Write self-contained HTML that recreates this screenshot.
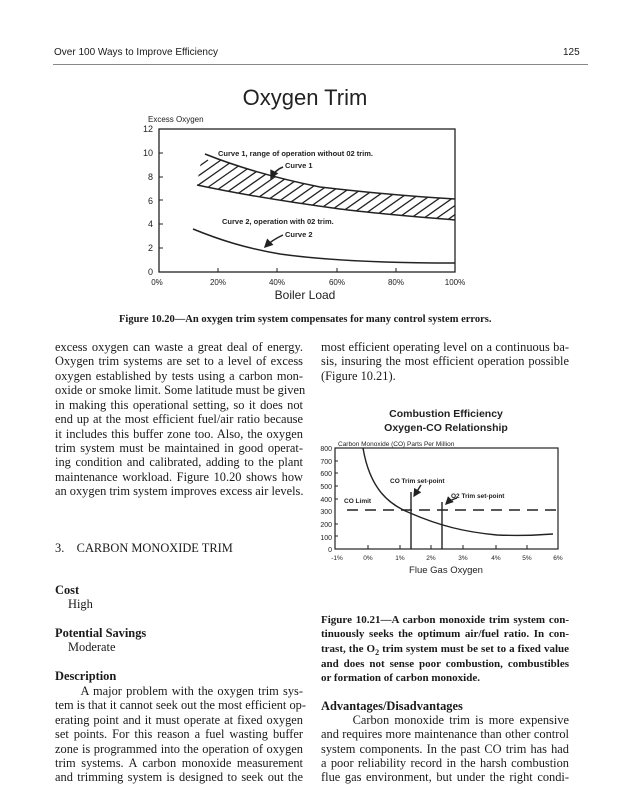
<!DOCTYPE html>
<html><head><meta charset="utf-8"><style>
body{margin:0;width:619px;height:800px;background:#fff;position:relative;overflow:hidden;font-family:"Liberation Serif",serif;color:#1a1a1a}
.l{position:absolute;font-size:12.4px;line-height:14px;height:14px;white-space:nowrap;text-align:justify;text-align-last:justify}
.L{left:55px;width:248px}
.R{left:321px;width:248px}
.n{text-align-last:left}
.b{font-weight:bold}
.s{font-family:"Liberation Sans",sans-serif}
svg{position:absolute;left:0;top:0}
svg text{font-family:"Liberation Sans",sans-serif;fill:#222}
</style></head><body>
<div class="s" style="position:absolute;left:54px;top:47px;font-size:10px">Over 100 Ways to Improve Efficiency</div>
<div class="s" style="position:absolute;left:563px;top:47px;font-size:10px">125</div>
<div style="position:absolute;left:53px;top:64px;width:535px;height:1px;background:#888"></div>

<svg width="619" height="800" viewBox="0 0 619 800">
<defs>
<clipPath id="band"><path d="M205,154 C230,164 265,176 320,187 C380,194 420,197 455,199 L455,220 C420,217 380,214 340,209 C280,201 230,192 197,185 L200,166 Z"/></clipPath>
<marker id="ah" markerWidth="6" markerHeight="6" refX="5" refY="3" orient="auto"><path d="M0,0 L6,3 L0,6 Z" fill="#222"/></marker>
</defs>
<text x="305" y="105" font-size="22" text-anchor="middle">Oxygen Trim</text>
<text x="148" y="122" font-size="8">Excess Oxygen</text>
<rect x="159" y="129" width="296" height="143" fill="none" stroke="#222" stroke-width="1.3"/>
<g font-size="9" text-anchor="end">
<text x="153" y="132">12</text><text x="153" y="156">10</text><text x="153" y="180">8</text><text x="153" y="204">6</text><text x="153" y="227">4</text><text x="153" y="251">2</text><text x="153" y="275">0</text></g>
<g stroke="#222"><line x1="159" y1="153" x2="163" y2="153"/><line x1="159" y1="177" x2="163" y2="177"/><line x1="159" y1="200" x2="163" y2="200"/><line x1="159" y1="224" x2="163" y2="224"/><line x1="159" y1="248" x2="163" y2="248"/>
<line x1="218" y1="272" x2="218" y2="268"/><line x1="277" y1="272" x2="277" y2="268"/><line x1="337" y1="272" x2="337" y2="268"/><line x1="396" y1="272" x2="396" y2="268"/></g>
<g font-size="8" text-anchor="middle"><text x="157" y="285">0%</text><text x="218" y="285">20%</text><text x="277" y="285">40%</text><text x="337" y="285">60%</text><text x="396" y="285">80%</text><text x="455" y="285">100%</text></g>
<text x="305" y="299" font-size="12" text-anchor="middle">Boiler Load</text>
<g clip-path="url(#band)" stroke="#222" stroke-width="1.3">
<path d="M160,230 l100,-70 M173,230 l100,-70 M186,230 l100,-70 M199,230 l100,-70 M212,230 l100,-70 M225,230 l100,-70 M238,230 l100,-70 M251,230 l100,-70 M264,230 l100,-70 M277,230 l100,-70 M290,230 l100,-70 M303,230 l100,-70 M316,230 l100,-70 M329,230 l100,-70 M342,230 l100,-70 M355,230 l100,-70 M368,230 l100,-70 M381,230 l100,-70 M394,230 l100,-70 M407,230 l100,-70 M420,230 l100,-70 M433,230 l100,-70 M446,230 l100,-70 M147,230 l100,-70 M134,230 l100,-70 M121,230 l100,-70 M108,230 l100,-70"/></g>
<g fill="none" stroke="#222" stroke-width="1.5">
<path d="M205,154 C230,164 265,176 320,187 C380,194 420,197 455,199"/>
<path d="M197,185 C230,192 280,201 340,209 C380,214 420,217 455,220"/>
<path d="M193,229 C220,240 245,248 280,254 C330,261 400,263 455,263"/>
<path d="M283,167 Q275,170 271,178" marker-end="url(#ah)"/>
<path d="M283,235 Q272,240 265,247" marker-end="url(#ah)"/>
</g>
<g font-size="7.5" font-weight="bold"><text x="218" y="156">Curve 1, range of operation without 02 trim.</text><text x="285" y="168">Curve 1</text><text x="222" y="224">Curve 2, operation with 02 trim.</text><text x="285" y="237">Curve 2</text></g>

<text x="446" y="417" font-size="10.5" font-weight="bold" text-anchor="middle">Combustion Efficiency</text>
<text x="446" y="431" font-size="10.5" font-weight="bold" text-anchor="middle">Oxygen-CO Relationship</text>
<text x="338" y="446" font-size="6.5">Carbon Monoxide (CO) Parts Per Million</text>
<rect x="335" y="448" width="223" height="101" fill="none" stroke="#222" stroke-width="1.2"/>
<g font-size="7" text-anchor="end"><text x="332" y="451">800</text><text x="332" y="464">700</text><text x="332" y="476">600</text><text x="332" y="489">500</text><text x="332" y="502">400</text><text x="332" y="514">300</text><text x="332" y="527">200</text><text x="332" y="540">100</text><text x="332" y="552">0</text></g>
<g stroke="#222"><line x1="335" y1="461" x2="338" y2="461"/><line x1="335" y1="473" x2="338" y2="473"/><line x1="335" y1="486" x2="338" y2="486"/><line x1="335" y1="499" x2="338" y2="499"/><line x1="335" y1="524" x2="338" y2="524"/><line x1="335" y1="536" x2="338" y2="536"/>
<line x1="368" y1="549" x2="368" y2="545"/><line x1="400" y1="549" x2="400" y2="545"/><line x1="431" y1="549" x2="431" y2="545"/><line x1="463" y1="549" x2="463" y2="545"/><line x1="496" y1="549" x2="496" y2="545"/><line x1="527" y1="549" x2="527" y2="545"/></g>
<g font-size="6.5" text-anchor="middle"><text x="337" y="560">-1%</text><text x="368" y="560">0%</text><text x="400" y="560">1%</text><text x="431" y="560">2%</text><text x="463" y="560">3%</text><text x="496" y="560">4%</text><text x="527" y="560">5%</text><text x="558" y="560">6%</text></g>
<text x="446" y="573" font-size="9.5" text-anchor="middle">Flue Gas Oxygen</text>
<line x1="347" y1="510" x2="558" y2="510" stroke="#222" stroke-width="1.5" stroke-dasharray="11,7"/>
<g fill="none" stroke="#222" stroke-width="1.4">
<path d="M363,448 C370,490 390,505 410,513 C440,526 465,532 497,535 C520,536 540,535 553,534"/>
<line x1="411" y1="492" x2="411" y2="549"/><line x1="442" y1="502" x2="442" y2="549"/>
<path d="M421,485 L414,496" marker-end="url(#ah)"/>
<path d="M457,498 Q450,500 446,504" marker-end="url(#ah)"/>
</g>
<g font-size="6.5" font-weight="bold"><text x="390" y="483">CO Trim set-point</text><text x="451" y="498">O2 Trim set-point</text><text x="344" y="503">CO Limit</text></g>
</svg>

<div class="l b" style="left:119px;top:313px;font-size:10.5px;text-align-last:left">Figure 10.20—An oxygen trim system compensates for many control system errors.</div>

<div class="l L" style="top:340px">excess oxygen can waste a great deal of energy.</div>
<div class="l L" style="top:354px">Oxygen trim systems are set to a level of excess</div>
<div class="l L" style="top:369px">oxygen established by tests using a carbon mon-</div>
<div class="l L" style="top:383px">oxide or smoke limit. Some latitude must be given</div>
<div class="l L" style="top:398px">in making this operational setting, so it does not</div>
<div class="l L" style="top:412px">end up at the most efficient fuel/air ratio because</div>
<div class="l L" style="top:427px">it includes this buffer zone too. Also, the oxygen</div>
<div class="l L" style="top:441px">trim system must be maintained in good operat-</div>
<div class="l L" style="top:455px">ing condition and calibrated, adding to the plant</div>
<div class="l L" style="top:470px">maintenance workload. Figure 10.20 shows how</div>
<div class="l L" style="top:484px">an oxygen trim system improves excess air levels.</div>

<div class="l L n" style="top:541px">3.&nbsp;&nbsp;&nbsp;&nbsp;CARBON MONOXIDE TRIM</div>
<div class="l L n b" style="top:583px">Cost</div>
<div class="l n" style="left:68px;top:597px">High</div>
<div class="l L n b" style="top:626px">Potential Savings</div>
<div class="l n" style="left:68px;top:640px">Moderate</div>
<div class="l L n b" style="top:669px">Description</div>
<div class="l L" style="top:684px">&nbsp;&nbsp;&nbsp;&nbsp;&nbsp;&nbsp;A major problem with the oxygen trim sys-</div>
<div class="l L" style="top:698px">tem is that it cannot seek out the most efficient op-</div>
<div class="l L" style="top:713px">erating point and it must operate at fixed oxygen</div>
<div class="l L" style="top:727px">set points. For this reason a fuel wasting buffer</div>
<div class="l L" style="top:742px">zone is programmed into the operation of oxygen</div>
<div class="l L" style="top:756px">trim systems. A carbon monoxide measurement</div>
<div class="l L" style="top:770px">and trimming system is designed to seek out the</div>

<div class="l R" style="top:340px">most efficient operating level on a continuous ba-</div>
<div class="l R" style="top:354px">sis, insuring the most efficient operation possible</div>
<div class="l R n" style="top:369px">(Figure 10.21).</div>

<div class="l R b" style="top:613px;font-size:11px">Figure 10.21—A carbon monoxide trim system con-</div>
<div class="l R b" style="top:627px;font-size:11px">tinuously seeks the optimum air/fuel ratio. In con-</div>
<div class="l R b" style="top:642px;font-size:11px">trast, the O<sub style="font-size:8px;line-height:0">2</sub> trim system must be set to a fixed value</div>
<div class="l R b" style="top:657px;font-size:11px">and does not sense poor combustion, combustibles</div>
<div class="l R b n" style="top:671px;font-size:11px">or formation of carbon monoxide.</div>

<div class="l R n b" style="top:699px">Advantages/Disadvantages</div>
<div class="l R" style="top:713px">&nbsp;&nbsp;&nbsp;&nbsp;&nbsp;&nbsp;Carbon monoxide trim is more expensive</div>
<div class="l R" style="top:727px">and requires more maintenance than other control</div>
<div class="l R" style="top:742px">system components. In the past CO trim has had</div>
<div class="l R" style="top:756px">a poor reliability record in the harsh combustion</div>
<div class="l R" style="top:770px">flue gas environment, but under the right condi-</div>
</body></html>
